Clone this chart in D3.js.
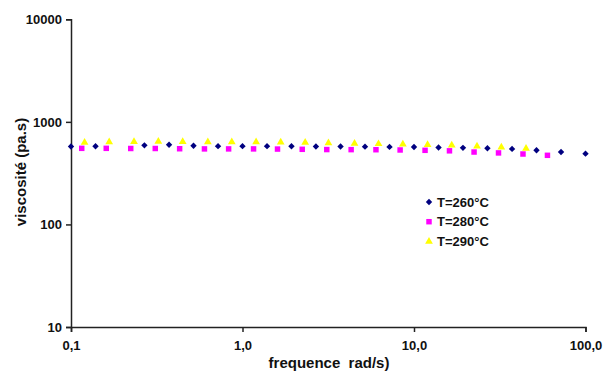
<!DOCTYPE html>
<html>
<head>
<meta charset="utf-8">
<script src="https://cdn.jsdelivr.net/npm/d3@7"></script>
<style>
    body { margin: 0; background: #fff; }
    svg { font-family: "Liberation Sans", Arial, sans-serif; }
    .axis path, .axis line { stroke: #222; stroke-width: 1.5; }
    .axis text { font-size: 13px; font-weight: bold; fill: #111; }
</style>
</head>
<body>
<svg id="chart"></svg>
<script>
// frequencies (rad/s) and viscosities (pa.s)
const freq260 = [0.1, 0.139, 0.268, 0.373, 0.518, 0.72, 1.0, 1.39, 1.93, 2.68, 3.73, 5.18, 7.2, 10, 13.9, 19.3, 26.8, 37.3, 51.8, 72, 100];
const visc260 = [575, 578, 590, 598, 585, 580, 580, 580, 578, 576, 575, 573, 570, 568, 563, 558, 553, 545, 528, 508, 490];

const freq280 = [0.1155, 0.1605, 0.223, 0.31, 0.43, 0.6, 0.83, 1.16, 1.6, 2.23, 3.1, 4.3, 6.0, 8.3, 11.6, 16.1, 22.4, 31.1, 43.2, 60];
const visc280 = [552, 552, 550, 550, 547, 545, 545, 545, 543, 540, 537, 536, 535, 532, 528, 522, 508, 498, 486, 472];

const freq290 = [0.12, 0.167, 0.233, 0.323, 0.448, 0.628, 0.866, 1.2, 1.67, 2.32, 3.17, 4.5, 6.21, 8.61, 12.0, 16.6, 23.3, 32.3, 45.0];
const visc290 = [630, 635, 640, 645, 640, 635, 635, 635, 633, 630, 622, 615, 610, 605, 598, 592, 578, 565, 550];

const seriesNames = ['T=260°C', 'T=280°C', 'T=290°C'];
const xTickValues = [0.1, 1, 10, 100];
const xTickLabels = ['0,1', '1,0', '10,0', '100,0'];
const yTickValues = [10, 100, 1000, 10000];
const yTickLabels = ['10', '100', '1000', '10000'];

class ViscosityPlot {

    constructor( config, series ) {
        this.config = {
            parent: config.parent,
            width: config.width || 604,
            height: config.height || 374,
            margin: config.margin || {top:19, right:19, bottom:47, left:71},
            xlabel: config.xlabel || '',
            ylabel: config.ylabel || ''
        }
        this.series = series;
        this.init();
    }

    init() {
        let self = this;

        self.svg = d3.select( self.config.parent )
            .attr('width', self.config.width)
            .attr('height', self.config.height);

        self.chart = self.svg.append('g')
            .attr('transform', `translate(${self.config.margin.left}, ${self.config.margin.top})`);

        self.inner_width = self.config.width - self.config.margin.left - self.config.margin.right;
        self.inner_height = self.config.height - self.config.margin.top - self.config.margin.bottom;

        self.xscale = d3.scaleLog()
            .domain( [0.1, 100] )
            .range( [0, self.inner_width] );

        self.yscale = d3.scaleLog()
            .domain( [10, 10000] )
            .range( [self.inner_height, 0] );

        self.xaxis = d3.axisBottom( self.xscale )
            .tickValues( xTickValues )
            .tickFormat( (d, i) => xTickLabels[i] )
            .tickSizeOuter(0)
            .tickSize(5)
            .tickPadding(9);

        self.yaxis = d3.axisLeft( self.yscale )
            .tickValues( yTickValues )
            .tickFormat( (d, i) => yTickLabels[i] )
            .tickSizeOuter(0)
            .tickSize(5)
            .tickPadding(4);

        self.xaxis_group = self.chart.append('g')
            .attr('class', 'axis')
            .attr('transform', `translate(0, ${self.inner_height})`);

        self.yaxis_group = self.chart.append('g')
            .attr('class', 'axis');

        self.svg.append('text')
            .style('font-size', '15px')
            .style('font-weight', 'bold')
            .attr('text-anchor', 'middle')
            .attr('x', 329)
            .attr('y', 368)
            .attr('fill', '#111')
            .style('white-space', 'pre')
            .text( self.config.xlabel );

        self.svg.append('text')
            .style('font-size', '15px')
            .style('font-weight', 'bold')
            .attr('transform', `rotate(-90)`)
            .attr('x', -172)
            .attr('y', 26)
            .attr('text-anchor', 'middle')
            .attr('fill', '#111')
            .text( self.config.ylabel );
    }

    render() {
        let self = this;

        self.xaxis_group.call( self.xaxis );
        self.yaxis_group.call( self.yaxis );

        self.series.forEach( s => {
            const pts = s.x.map( (x, i) => ({x: x, y: s.y[i]}) );
            self.chart.selectAll(null)
                .data(pts)
                .enter()
                .append('path')
                .attr('d', d3.symbol().type(s.symbol).size(s.size))
                .attr('transform', d => `translate(${self.xscale(d.x)}, ${self.yscale(d.y)})`)
                .attr('fill', s.color);
        });

        // legend
        const legend = self.svg.append('g')
            .attr('transform', 'translate(429, 202)');

        self.series.forEach( (s, i) => {
            const row = legend.append('g')
                .attr('transform', `translate(0, ${i * 19.7})`);
            row.append('path')
                .attr('d', d3.symbol().type(s.symbol).size(s.size))
                .attr('fill', s.color);
            row.append('text')
                .attr('x', 8)
                .attr('dy', '0.36em')
                .style('font-size', '13px')
                .style('font-weight', 'bold')
                .attr('fill', '#111')
                .text( seriesNames[i] );
        });
    }
}

const plot = new ViscosityPlot({
    parent: '#chart',
    width: 604,
    height: 374,
    margin: {top:19.3, right:18.5, bottom:47, left:71},
    xlabel: 'frequence  rad/s)',
    ylabel: 'viscosité (pa.s)'
}, [
    {x: freq260, y: visc260, color: '#000080', symbol: d3.symbolDiamond2, size: 26},
    {x: freq280, y: visc280, color: '#ff00ff', symbol: d3.symbolSquare, size: 30},
    {x: freq290, y: visc290, color: '#ffff00', symbol: d3.symbolTriangle, size: 26}
]);
plot.render();
</script>
</body>
</html>
